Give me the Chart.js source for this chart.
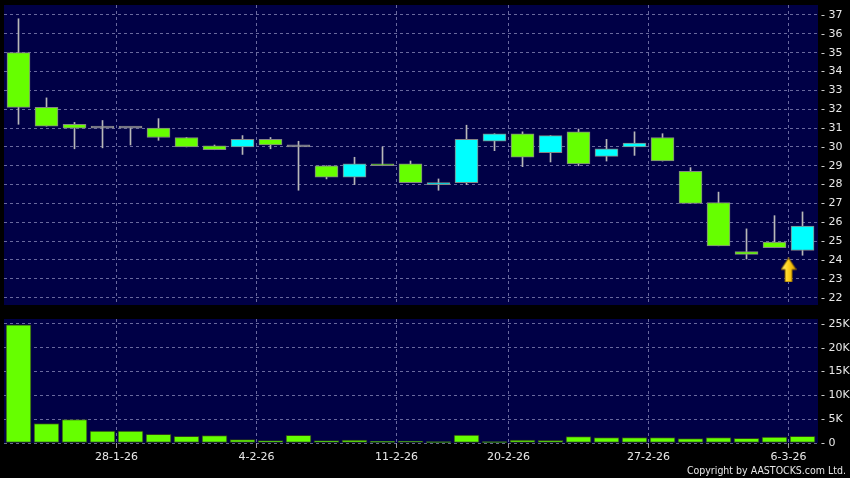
<!DOCTYPE html>
<html><head><meta charset="utf-8">
<script src="https://cdn.jsdelivr.net/npm/chart.js@4"></script>
<style>
html,body{margin:0;padding:0;background:#000;width:850px;height:478px;overflow:hidden;}
#wrap{position:relative;width:850px;height:478px;}
canvas{position:absolute;left:0;}
#copy{position:absolute;right:4px;top:464px;font:10.5px "DejaVu Sans Condensed","DejaVu Sans",sans-serif;font-stretch:condensed;color:#e6e6e6;white-space:nowrap;}
</style></head><body>
<div id="wrap">
<canvas id="price" width="850" height="312" style="top:0"></canvas>
<canvas id="vol" width="850" height="166" style="top:312px"></canvas>
<div id="copy">Copyright by AASTOCKS.com Ltd.</div>
</div>
<script>
const dates = ['22-1-26','23-1-26','26-1-26','27-1-26','28-1-26','29-1-26','30-1-26','2-2-26','3-2-26','4-2-26',
  '5-2-26','6-2-26','9-2-26','10-2-26','11-2-26','12-2-26','13-2-26','16-2-26','20-2-26','23-2-26',
  '24-2-26','25-2-26','26-2-26','27-2-26','2-3-26','3-3-26','4-3-26','5-3-26','6-3-26'];
const openP  = [35.0,32.1,31.2,31.0,31.0,31.0,30.5,30.05,30.0,30.4,30.0,29.0,28.4,29.05,29.1,28.0,28.1,30.3,30.7,29.7,30.8,29.5,30.0,30.5,28.7,27.05,24.45,24.95,24.5];
const closeP = [32.1,31.1,31.0,31.0,31.0,30.5,30.0,29.85,30.4,30.1,30.0,28.4,29.1,29.0,28.1,28.1,30.4,30.7,29.45,30.6,29.1,29.9,30.2,29.25,27.0,24.75,24.3,24.65,25.8];
const highP  = [36.8,32.6,31.3,31.4,31.0,31.5,30.5,30.1,30.6,30.5,30.3,29.0,29.45,30.0,29.25,28.3,31.15,30.7,30.8,30.6,30.95,30.4,30.8,30.7,28.9,27.6,25.65,26.35,26.55];
const lowP   = [31.2,31.1,29.9,29.95,30.1,30.35,30.0,29.85,29.6,29.9,27.7,28.3,28.0,29.0,28.1,27.7,28.0,29.8,28.95,29.2,29.0,29.25,29.55,29.25,27.0,24.75,24.05,24.65,24.25];
const volume = [24800,4100,4900,2500,2500,1800,1400,1550,700,500,1600,500,630,350,420,280,1680,280,630,560,1330,1120,1120,1120,910,1120,980,1260,1400];
const xTickLabels = ['28-1-26','4-2-26','11-2-26','20-2-26','27-2-26','6-3-26'];
const priceTicks = [22,23,24,25,26,27,28,29,30,31,32,33,34,35,36,37];
const volTicks = [0,5000,10000,15000,20000,25000];
const markerX = [27.5];
const markerY = [23.47];

const NAVY='#000046', GRID='rgba(150,150,195,0.7)', TXT='#e8e8e8', UP='#00ffff', DOWN='#66ff00', FLAT='#a8a8a8';
const FONT={family:'"DejaVu Sans", sans-serif', size:11};
const X_MIN=-0.518, X_MAX=28.553;
const xTickVals = xTickLabels.map(l => dates.indexOf(l) - 0.5);

function candleColor(i){ return closeP[i]>openP[i]?UP:(closeP[i]<openP[i]?DOWN:FLAT); }

const bg={id:'bg',beforeDraw(c){const a=c.chartArea,x=c.ctx;x.save();x.fillStyle=NAVY;x.fillRect(a.left,a.top,a.right-a.left,a.bottom-a.top);x.restore();}};

function xScale(showLabels){
  return {type:'linear',min:X_MIN,max:X_MAX,offset:false,
    afterBuildTicks:s=>{s.ticks=xTickVals.map(v=>({value:v}));},
    afterFit:s=>{s.height=showLabels?35:0;s.paddingLeft=0;s.paddingRight=0;},
    grid:{color:GRID,offset:false,drawTicks:showLabels,tickLength:5,tickColor:'#9a9a9a',tickBorderDash:[]},
    border:{display:false,dash:[3,3]},
    ticks:{display:showLabels,color:TXT,font:FONT,padding:3,autoSkip:false,maxRotation:0,minRotation:0,callback:(v,i)=>xTickLabels[i]}};
}
function yScale(min,max,vals,fmt){
  return {position:'right',min,max,
    afterBuildTicks:s=>{s.ticks=vals.map(v=>({value:v}));},
    afterFit:s=>{s.width=32;s.paddingTop=0;s.paddingBottom=0;},
    grid:{color:GRID,drawTicks:false},
    border:{display:false,dash:[3,3]},
    ticks:{color:TXT,font:FONT,padding:3,callback:v=>'- '+fmt(v)}};
}

// arrow marker image
const arrow=document.createElement('canvas');
arrow.width=16;arrow.height=25;
(function(){const g=arrow.getContext('2d');
  g.beginPath();g.moveTo(8,0.5);g.lineTo(15.5,12);g.lineTo(11.5,12);g.lineTo(11.5,24.5);g.lineTo(4.5,24.5);g.lineTo(4.5,12);g.lineTo(0.5,12);g.closePath();
  const gr=g.createLinearGradient(0,0,16,0);gr.addColorStop(0,'#fff27a');gr.addColorStop(0.5,'#ffd21a');gr.addColorStop(1,'#d99a00');
  g.fillStyle=gr;g.fill();g.strokeStyle='#8a6400';g.lineWidth=1;g.stroke();})();

const common={responsive:false,animation:false,events:[],plugins:{legend:{display:false},tooltip:{enabled:false}}};

new Chart(document.getElementById('price'),{
  type:'bar',
  data:{datasets:[
    {label:'body',order:1,grouped:false,data:dates.map((d,i)=>({x:i,y:[openP[i],closeP[i]]})),
     backgroundColor:c=>candleColor(c.dataIndex),borderColor:'#858585',borderWidth:1,borderSkipped:false,barThickness:23,minBarLength:2},
    {label:'wick',order:2,grouped:false,data:dates.map((d,i)=>({x:i,y:[lowP[i],highP[i]]})),
     backgroundColor:'#b8b8b8',borderWidth:0,barThickness:1},
    {type:'scatter',label:'marker',order:0,clip:false,data:markerX.map((x,k)=>({x,y:markerY[k]})),pointStyle:arrow,pointRadius:8,hoverRadius:8}
  ]},
  options:Object.assign({},common,{
    layout:{autoPadding:false,padding:{left:4,top:5,right:0,bottom:7}},
    scales:{x:xScale(false),y:yScale(21.61,37.53,priceTicks,v=>v)}
  }),
  plugins:[bg]
});

new Chart(document.getElementById('vol'),{
  type:'bar',
  data:{datasets:[
    {label:'volume',grouped:false,data:dates.map((d,i)=>({x:i,y:volume[i]})),
     backgroundColor:DOWN,borderColor:'#2c3e1e',borderWidth:1,borderSkipped:false,barThickness:25}
  ]},
  options:Object.assign({},common,{
    layout:{autoPadding:false,padding:{left:4,top:7,right:0,bottom:0}},
    scales:{x:xScale(true),y:yScale(0,26050,volTicks,v=>v===0?'0':(v/1000)+'K')}
  }),
  plugins:[bg]
});
</script>
</body></html>
